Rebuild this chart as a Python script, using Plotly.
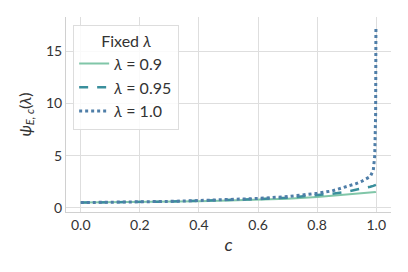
import plotly.graph_objects as go

c_vals = [0, 0.1, 0.2, 0.3, 0.4, 0.5, 0.6, 0.7, 0.8, 0.85, 0.9, 0.93, 0.95,
          0.97, 0.98, 0.99, 0.995, 0.998, 0.999]
psi_09 = [0.5, 0.52, 0.55, 0.59, 0.64, 0.70, 0.77, 0.88, 1.05, 1.15, 1.27,
          1.33, 1.37, 1.42, 1.45, 1.48, 1.50, 1.51, 1.52]
psi_095 = [0.5, 0.52, 0.56, 0.60, 0.67, 0.74, 0.84, 0.97, 1.20, 1.35, 1.55,
           1.70, 1.80, 1.95, 2.02, 2.10, 2.15, 2.18, 2.20]
psi_10 = [0.5, 0.53, 0.57, 0.62, 0.70, 0.78, 0.90, 1.08, 1.39, 1.62, 2.00,
          2.30, 2.53, 2.80, 3.00, 3.60, 5.00, 9.00, 17.4]

series = [
    ("<i>λ</i> = 0.9", psi_09, "#80c6a8", "solid", 2),
    ("<i>λ</i> = 0.95", psi_095, "#3a8f9c", "dash", 2.5),
    ("<i>λ</i> = 1.0", psi_10, "#4f7ea8", "dot", 3),
]

fig = go.Figure()
for name, ys, col, dash, w in series:
    fig.add_trace(go.Scatter(x=c_vals, y=ys, mode="lines", name=name,
                             line=dict(color=col, dash=dash, width=w)))

font = dict(family="Lato, 'Open Sans', sans-serif", size=14, color="#333333")
fig.update_layout(
    width=400, height=264,
    margin=dict(l=58, r=17, t=9, b=60),
    paper_bgcolor="white", plot_bgcolor="white",
    font=font,
    legend=dict(
        title=dict(text="Fixed <i>λ</i>", side="top center", font=dict(size=16)),
        x=0.022, y=0.96, xanchor="left", yanchor="top",
        bgcolor="rgba(255,255,255,0.85)", bordercolor="#dddddd", borderwidth=1,
        font=dict(size=16), itemwidth=30, tracegroupgap=0,
    ),
    xaxis=dict(
        range=[-0.05, 1.05], tickvals=[0, 0.2, 0.4, 0.6, 0.8, 1.0],
        ticktext=["0.0", "0.2", "0.4", "0.6", "0.8", "1.0"],
        showgrid=True, gridcolor="#dedede", gridwidth=1,
        showline=True, linecolor="#d0d0d0", linewidth=1,
        zeroline=False, ticks="", tickfont=dict(size=14), automargin=False,
        title=dict(text="<i>c</i>", font=dict(size=18), standoff=6),
    ),
    yaxis=dict(
        range=[-0.4, 18.3], tickvals=[0, 5, 10, 15],
        showgrid=True, gridcolor="#dedede", gridwidth=1,
        showline=True, linecolor="#d0d0d0", linewidth=1,
        zeroline=False, ticks="", tickfont=dict(size=14), automargin=False,
        title=dict(text="<i>ψ</i><sub><i>E, c</i></sub>(<i>λ</i>)", font=dict(size=16), standoff=10),
    ),
)

fig.write_html("out.html")
